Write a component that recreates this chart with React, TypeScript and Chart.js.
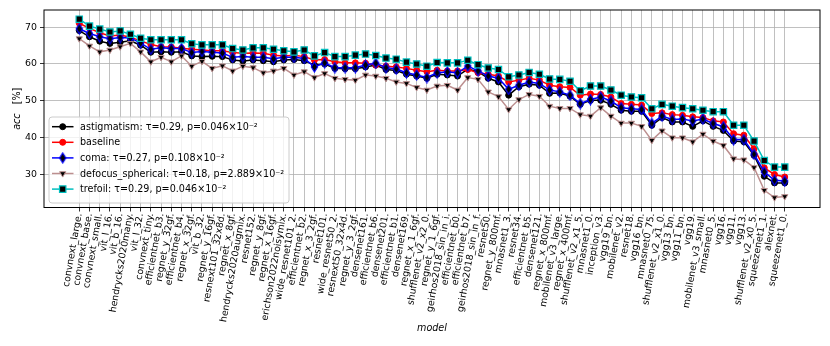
import React, { useEffect, useRef } from 'react';
import { Chart, registerables } from 'chart.js';

Chart.register(...registerables);

const categories = [
  'convnext_large.', 'convnext_base.', 'convnext_small.', 'vit_l_16.', 'vit_b_16.',
  'hendrycks2020many.', 'vit_l_32.', 'convnext_tiny.', 'efficientnet_b3.', 'regnet_y_32gf.',
  'efficientnet_b4.', 'regnet_x_32gf.', 'vit_b_32.', 'regnet_y_16gf.', 'resnext101_32x8d.',
  'regnet_x_8gf.', 'hendrycks2020augmix.', 'resnet152.', 'regnet_y_8gf.', 'regnet_x_16gf.',
  'erichson2022noisymix.', 'wide_resnet101_2.', 'efficientnet_b2.', 'regnet_x_3_2gf.', 'resnet101.',
  'wide_resnet50_2.', 'resnext50_32x4d.', 'regnet_y_3_2gf.', 'densenet161.', 'efficientnet_b6.',
  'densenet201.', 'efficientnet_b1.', 'densenet169.', 'regnet_x_1_6gf.', 'shufflenet_v2_x2_0.',
  'regnet_y_1_6gf.', 'geirhos2018_sin_in_i.', 'efficientnet_b0.', 'efficientnet_b7.', 'geirhos2018_sin_in_f.',
  'resnet50.', 'regnet_y_800mf.', 'mnasnet1_3.', 'resnet34.', 'efficientnet_b5.',
  'densenet121.', 'regnet_x_800mf.', 'mobilenet_v3_large.', 'regnet_x_400mf.', 'shufflenet_v2_x1_5.',
  'mnasnet1_0.', 'inception_v3.', 'vgg19_bn.', 'mobilenet_v2.', 'resnet18.',
  'vgg16_bn.', 'mnasnet0_75.', 'shufflenet_v2_x1_0.', 'vgg13_bn.', 'vgg11_bn.',
  'vgg19.', 'mobilenet_v3_small.', 'mnasnet0_5.', 'vgg16.', 'vgg11.',
  'vgg13.', 'shufflenet_v2_x0_5.', 'squeezenet1_1.', 'alexnet.', 'squeezenet1_0.',
];

const astigmatism = [
  69.1, 67.4, 66.2, 65.6, 65.9, 66.3, 65.1, 63.2, 63.3, 63.2,
  63.3, 62.2, 62.0, 62.1, 62.0, 61.1, 60.8, 61.1, 60.9, 60.6,
  61.1, 61.2, 60.9, 59.7, 60.0, 58.8, 58.7, 58.7, 59.2, 59.7,
  58.5, 58.2, 57.2, 56.7, 56.1, 57.2, 57.0, 56.7, 58.6, 57.9,
  56.1, 55.1, 51.5, 53.8, 54.5, 54.2, 52.0, 52.1, 51.2, 49.0,
  50.1, 50.1, 49.0, 47.4, 47.1, 47.1, 43.3, 45.4, 44.2, 44.2,
  43.0, 44.5, 43.0, 41.9, 39.0, 38.8, 35.1, 29.4, 27.6, 27.6,
];

const baseline = [
  71.1, 69.7, 68.5, 67.6, 67.9, 67.3, 66.3, 65.3, 64.7, 64.6,
  64.3, 64.0, 63.8, 63.6, 63.6, 63.1, 62.9, 63.0, 62.9, 62.4,
  62.2, 62.4, 62.0, 61.1, 61.2, 60.6, 60.3, 60.3, 60.2, 59.7,
  59.4, 59.2, 58.8, 58.3, 57.9, 58.3, 58.1, 58.1, 58.5, 57.6,
  57.2, 56.7, 55.1, 55.6, 56.1, 55.6, 54.2, 53.8, 53.6, 51.5,
  51.8, 51.7, 51.0, 49.2, 49.0, 48.8, 46.5, 46.7, 46.2, 46.0,
  45.6, 45.4, 44.5, 44.2, 41.0, 40.6, 36.9, 31.7, 29.9, 29.2,
];

const coma = [
  69.6, 68.3, 67.4, 66.9, 67.2, 67.1, 65.7, 64.0, 64.4, 64.2,
  64.2, 63.1, 63.4, 63.2, 63.0, 61.8, 62.0, 61.8, 61.8, 61.4,
  61.8, 61.8, 61.5, 59.2, 60.3, 59.0, 59.0, 59.0, 59.7, 60.2,
  59.0, 58.6, 57.6, 57.0, 56.3, 57.6, 57.8, 57.6, 59.4, 58.1,
  56.7, 56.1, 53.1, 54.2, 55.1, 54.7, 52.9, 52.4, 51.5, 49.2,
  50.3, 51.0, 49.9, 48.1, 47.8, 47.6, 43.8, 45.8, 44.9, 45.0,
  44.5, 45.0, 43.8, 42.9, 39.4, 39.4, 35.4, 30.6, 28.3, 28.1,
];

const defocusSpherical = [
  66.9, 64.9, 63.3, 63.8, 64.7, 65.6, 63.3, 60.6, 61.8, 60.6,
  62.2, 59.4, 60.7, 58.8, 59.5, 58.1, 59.4, 59.0, 57.6, 58.1,
  58.8, 57.0, 57.9, 56.3, 57.4, 56.1, 55.8, 55.6, 57.0, 56.7,
  56.1, 55.1, 54.7, 53.6, 52.9, 54.0, 54.2, 52.9, 56.3, 55.8,
  52.4, 51.1, 47.6, 50.3, 51.7, 51.2, 48.5, 47.9, 47.9, 46.2,
  45.8, 48.1, 45.8, 43.9, 43.9, 43.0, 39.2, 41.8, 39.9, 39.9,
  38.8, 40.9, 39.0, 37.8, 34.2, 33.9, 31.8, 25.6, 23.6, 23.9,
];

const trefoil = [
  72.2, 70.3, 69.5, 68.7, 69.0, 68.1, 67.0, 66.6, 66.6, 66.6,
  66.6, 65.5, 65.2, 65.2, 65.2, 64.2, 63.8, 64.4, 64.4, 64.0,
  63.6, 63.3, 63.8, 62.2, 63.1, 62.0, 62.0, 62.4, 62.7, 62.3,
  61.6, 61.3, 60.5, 60.0, 59.4, 60.4, 60.3, 60.3, 61.0, 59.8,
  58.9, 58.5, 56.5, 57.0, 57.7, 57.2, 55.9, 55.8, 55.3, 52.7,
  54.0, 54.0, 52.9, 51.5, 51.0, 50.8, 47.8, 49.0, 48.5, 48.1,
  47.8, 47.4, 47.0, 47.0, 43.3, 43.3, 39.0, 33.7, 31.9, 31.9,
];

const seriesLabels = [
  'astigmatism: τ=0.29, p=0.046×10⁻²',
  'baseline',
  'coma: τ=0.27, p=0.108×10⁻²',
  'defocus_spherical: τ=0.18, p=2.889×10⁻²',
  'trefoil: τ=0.29, p=0.046×10⁻²',
];

const yTicks = [30, 40, 50, 60, 70];

const FONT = "'DejaVu Sans', sans-serif";
const W = 830;
const H = 346;

type Marker = 'circle' | 'diamond' | 'triDown' | 'square';

function makeDiamond(): HTMLCanvasElement {
  const c = document.createElement('canvas');
  c.width = 9;
  c.height = 12;
  const g = c.getContext('2d')!;
  g.beginPath();
  g.moveTo(4.5, 1);
  g.lineTo(7.6, 6);
  g.lineTo(4.5, 11);
  g.lineTo(1.4, 6);
  g.closePath();
  g.fillStyle = '#000000';
  g.fill();
  g.lineWidth = 1.2;
  g.strokeStyle = '#0000ff';
  g.stroke();
  return c;
}

function drawMarker(ctx: CanvasRenderingContext2D, m: Marker, x: number, y: number, fill: string, stroke: string, diamond: HTMLCanvasElement) {
  ctx.save();
  ctx.fillStyle = fill;
  ctx.strokeStyle = stroke;
  ctx.lineWidth = 1;
  ctx.beginPath();
  if (m === 'circle') {
    ctx.arc(x, y, 3, 0, Math.PI * 2);
    ctx.fill();
    ctx.stroke();
  } else if (m === 'square') {
    ctx.rect(x - 3.2, y - 3.2, 6.4, 6.4);
    ctx.fill();
    ctx.lineWidth = 1.2;
    ctx.stroke();
  } else if (m === 'triDown') {
    const r = 3.6;
    ctx.moveTo(x, y + r);
    ctx.lineTo(x + r * 0.866, y - r * 0.5);
    ctx.lineTo(x - r * 0.866, y - r * 0.5);
    ctx.closePath();
    ctx.fill();
    ctx.stroke();
  } else {
    ctx.drawImage(diamond, x - diamond.width / 2, y - diamond.height / 2);
  }
  ctx.restore();
}

export default function App() {
  const ref = useRef<HTMLCanvasElement | null>(null);

  useEffect(() => {
    document.body.style.margin = '0';
    const canvas = ref.current;
    if (!canvas) return;
    const diamond = makeDiamond();

    const seriesValues = [astigmatism, baseline, coma, defocusSpherical, trefoil];
    const lineColors = ['#000000', '#ff0000', '#0000ff', '#bc8f8f', '#00bfbf'];
    const fills = ['#000000', '#ff0000', '#000000', '#000000', '#000000'];
    const markers: Marker[] = ['circle', 'circle', 'diamond', 'triDown', 'square'];

    const datasets = seriesValues.map((vals, k) => {
      const m = markers[k];
      let pointStyle: any = 'circle';
      let radius = 3;
      let rotation = 0;
      if (m === 'square') { pointStyle = 'rect'; radius = 4.5; }
      if (m === 'triDown') { pointStyle = 'triangle'; radius = 3.6; rotation = 180; }
      if (m === 'diamond') { pointStyle = diamond; radius = 4; }
      return {
        label: seriesLabels[k],
        data: vals.map((v, i) => ({ x: i, y: v })),
        borderColor: lineColors[k],
        backgroundColor: lineColors[k],
        borderWidth: 1.5,
        pointStyle,
        pointRadius: radius,
        pointRotation: rotation,
        pointBackgroundColor: fills[k],
        pointBorderColor: lineColors[k],
        pointBorderWidth: m === 'square' ? 1.2 : 1,
        tension: 0,
        order: 4 - k,
      };
    });

    const overlay = {
      id: 'overlay',
      afterDatasetsDraw(chart: any) {
        const ctx: CanvasRenderingContext2D = chart.ctx;
        const a = chart.chartArea;
        ctx.save();
        // frame
        ctx.strokeStyle = '#000000';
        ctx.lineWidth = 1;
        ctx.strokeRect(a.left, a.top, a.right - a.left, a.bottom - a.top);

        // legend box
        const bx = 49, by = 117, bw = 240, bh = 86, r = 3;
        ctx.beginPath();
        ctx.moveTo(bx + r, by);
        ctx.lineTo(bx + bw - r, by);
        ctx.quadraticCurveTo(bx + bw, by, bx + bw, by + r);
        ctx.lineTo(bx + bw, by + bh - r);
        ctx.quadraticCurveTo(bx + bw, by + bh, bx + bw - r, by + bh);
        ctx.lineTo(bx + r, by + bh);
        ctx.quadraticCurveTo(bx, by + bh, bx, by + bh - r);
        ctx.lineTo(bx, by + r);
        ctx.quadraticCurveTo(bx, by, bx + r, by);
        ctx.closePath();
        ctx.fillStyle = 'rgba(255,255,255,0.8)';
        ctx.fill();
        ctx.strokeStyle = '#cccccc';
        ctx.lineWidth = 1;
        ctx.stroke();

        ctx.font = `9.6px ${FONT}`;
        ctx.textBaseline = 'middle';
        ctx.textAlign = 'left';
        seriesLabels.forEach((lab, k) => {
          const y = 126.7 + k * 15.6;
          ctx.strokeStyle = lineColors[k];
          ctx.lineWidth = 1.5;
          ctx.beginPath();
          ctx.moveTo(52, y);
          ctx.lineTo(73.5, y);
          ctx.stroke();
          drawMarker(ctx, markers[k], 62.7, y, fills[k], lineColors[k], diamond);
          ctx.fillStyle = '#000000';
          ctx.fillText(lab, 80, y + 0.5);
        });

        // y axis title: italic "acc" + "  [%]"
        ctx.save();
        ctx.translate(17, (a.top + a.bottom) / 2);
        ctx.rotate(-Math.PI / 2);
        ctx.textBaseline = 'middle';
        ctx.fillStyle = '#000000';
        ctx.font = `italic 9.6px ${FONT}`;
        const t1 = 'acc';
        const w1 = ctx.measureText(t1).width;
        ctx.font = `9.6px ${FONT}`;
        const t2 = '   [%]';
        const w2 = ctx.measureText(t2).width;
        const start = -(w1 + w2) / 2;
        ctx.textAlign = 'left';
        ctx.font = `italic 9.6px ${FONT}`;
        ctx.fillText(t1, start, 0);
        ctx.font = `9.6px ${FONT}`;
        ctx.fillText(t2, start + w1, 0);
        ctx.restore();

        // x axis title
        ctx.font = `italic 9.6px ${FONT}`;
        ctx.textAlign = 'center';
        ctx.textBaseline = 'middle';
        ctx.fillStyle = '#000000';
        ctx.fillText('model', (a.left + a.right) / 2, 328.5);

        ctx.restore();
      },
    };

    const chart = new Chart(canvas, {
      type: 'line',
      data: { datasets: datasets as any },
      options: {
        animation: false,
        responsive: false,
        devicePixelRatio: 1,
        layout: { padding: { top: 10, right: 10, left: 0, bottom: 0 } },
        plugins: {
          legend: { display: false },
          tooltip: { enabled: false },
          title: { display: false },
        },
        scales: {
          x: {
            type: 'linear',
            min: -3.45,
            max: 72.45,
            afterBuildTicks: (s: any) => {
              s.ticks = categories.map((_, i) => ({ value: i }));
            },
            afterFit: (s: any) => {
              s.height = H - 207.5;
            },
            ticks: {
              autoSkip: false,
              minRotation: 80,
              maxRotation: 80,
              padding: 1,
              color: '#000000',
              font: { family: FONT, size: 9.4 },
              callback: (v: any) => categories[Math.round(Number(v))] ?? '',
            },
            grid: { color: '#b0b0b0', lineWidth: 0.8, tickLength: 4, tickColor: '#000000', drawTicks: true },
            border: { display: false },
          },
          y: {
            type: 'linear',
            min: 20.9,
            max: 74.7,
            afterBuildTicks: (s: any) => {
              s.ticks = yTicks.map((v) => ({ value: v }));
            },
            afterFit: (s: any) => {
              s.width = 44;
            },
            ticks: {
              padding: 3,
              color: '#000000',
              font: { family: FONT, size: 9.4 },
              callback: (v: any) => String(v),
            },
            grid: { color: '#b0b0b0', lineWidth: 0.8, tickLength: 4, tickColor: '#000000', drawTicks: true },
            border: { display: false },
          },
        },
      },
      plugins: [overlay],
    });

    return () => {
      chart.destroy();
    };
  }, []);

  return (
    <div style={{ width: W, height: H, background: '#ffffff' }}>
      <canvas ref={ref} width={W} height={H} style={{ display: 'block', width: W, height: H }} />
    </div>
  );
}
